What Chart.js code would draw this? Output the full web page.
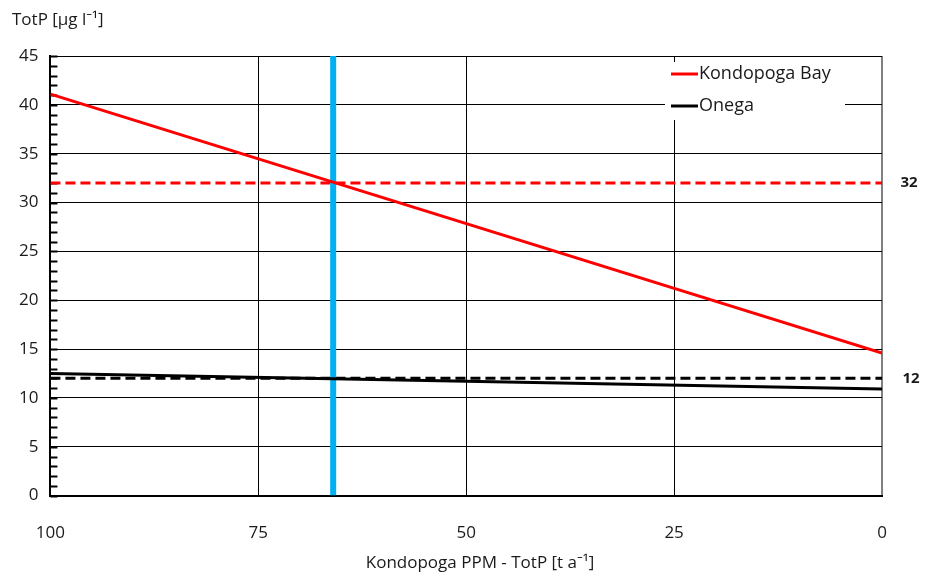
<!DOCTYPE html>
<html>
<head>
<meta charset="utf-8">
<script src="https://cdn.jsdelivr.net/npm/chart.js@4.4.1/dist/chart.umd.min.js"></script>
<style>
  html, body { margin: 0; padding: 0; background: #fff; }
  #wrap { width: 928px; height: 577px; }
</style>
</head>
<body>
<div id="wrap"><canvas id="totpChart"></canvas></div>
<script>
  // load scenario (t a-1), x axis runs from 100 down to 0
  const loadPoints = [100, 0];
  const kondopogaBay = [41.1, 14.6];
  const onega = [12.5, 10.9];
  const kondopogaTarget = [32, 32];
  const onegaTarget = [12, 12];
  const currentLoad = [66, 66];
  const currentLoadRange = [0, 45];
  const xTickValues = [100, 75, 50, 25, 0];
  const yTickValues = [0, 5, 10, 15, 20, 25, 30, 35, 40, 45];
  const targetLabels = ['32', '12'];

  const FONT = '"Open Sans", "Noto Sans", sans-serif';
  const TEXT = '#1a1a1a';

  function pts(xs, ys) {
    return xs.map(function (x, i) { return { x: x, y: ys[i] }; });
  }

  const extrasPlugin = {
    id: 'extras',
    beforeDatasetsDraw: function (chart) {
      const ctx = chart.ctx;
      const y = chart.scales.y;
      const area = chart.chartArea;
      // inward minor ticks on the y axis
      ctx.save();
      ctx.strokeStyle = '#000';
      ctx.lineWidth = 2;
      for (let v = y.min; v <= y.max; v++) {
        const py = Math.round(y.getPixelForValue(v)) + 0.5;
        ctx.beginPath();
        ctx.moveTo(area.left, py);
        ctx.lineTo(area.left + 7, py);
        ctx.stroke();
      }
      ctx.restore();
    },
    afterDraw: function (chart) {
      const ctx = chart.ctx;
      const y = chart.scales.y;
      const area = chart.chartArea;
      ctx.save();
      // axis titles
      ctx.fillStyle = TEXT;
      ctx.font = '17px ' + FONT;
      ctx.textBaseline = 'middle';
      ctx.textAlign = 'left';
      ctx.fillText('TotP [µg l⁻¹]', 12, 20);
      ctx.textAlign = 'center';
      ctx.fillText('Kondopoga PPM - TotP [t a⁻¹]', 480, 563);

      // target labels right of the plot
      ctx.font = 'bold 15px ' + FONT;
      ctx.fillText(targetLabels[0], area.right + 27, y.getPixelForValue(kondopogaTarget[1]));
      ctx.fillText(targetLabels[1], area.right + 29, y.getPixelForValue(onegaTarget[1]));

      // legend box inside the plot, top right
      const boxW = 180, boxH = 58;
      const bx = area.right - 37 - boxW, by = area.top + 6;
      ctx.fillStyle = '#fff';
      ctx.fillRect(bx, by, boxW, boxH);
      const items = [chart.data.datasets[0], chart.data.datasets[1]];
      ctx.font = '18px ' + FONT;
      ctx.textAlign = 'left';
      items.forEach(function (ds, i) {
        const ly = by + 12 + i * 32;
        ctx.strokeStyle = ds.borderColor;
        ctx.lineWidth = 3;
        ctx.beginPath();
        ctx.moveTo(bx + 6, ly);
        ctx.lineTo(bx + 33, ly);
        ctx.stroke();
        ctx.fillStyle = TEXT;
        ctx.fillText(ds.label, bx + 34, ly);
      });
      ctx.restore();
    }
  };

  new Chart(document.getElementById('totpChart'), {
    type: 'line',
    data: {
      datasets: [
        { label: 'Kondopoga Bay', data: pts(loadPoints, kondopogaBay), borderColor: '#ff0000', borderWidth: 3 },
        { label: 'Onega', data: pts(loadPoints, onega), borderColor: '#000000', borderWidth: 3 },
        { label: 'current', data: pts(currentLoad, currentLoadRange), borderColor: '#00b0f0', borderWidth: 6, borderCapStyle: 'butt' },
        { label: 'Kondopoga target', data: pts(loadPoints, kondopogaTarget), borderColor: '#ff0000', borderWidth: 3, borderDash: [10, 5] },
        { label: 'Onega target', data: pts(loadPoints, onegaTarget), borderColor: '#000000', borderWidth: 3, borderDash: [10, 5] }
      ]
    },
    options: {
      responsive: true,
      maintainAspectRatio: false,
      animation: false,
      elements: { point: { radius: 0 }, line: { tension: 0 } },
      layout: { padding: { top: 56, left: 7, right: 46, bottom: 7 } },
      plugins: { legend: { display: false }, tooltip: { enabled: false }, title: { display: false } },
      scales: {
        x: {
          type: 'linear',
          reverse: true,
          min: 0,
          max: 100,
          afterBuildTicks: function (scale) {
            scale.ticks = xTickValues.map(function (v) { return { value: v }; });
          },
          ticks: { color: TEXT, font: { family: FONT, size: 17 }, padding: 27 },
          grid: {
            drawTicks: false,
            color: function (c) { return c.tick && c.tick.value === 0 ? '#808080' : '#000'; },
            lineWidth: function (c) { return c.tick && c.tick.value === 0 ? 2 : 1; }
          },
          border: { color: '#000', width: 2 }
        },
        y: {
          min: 0,
          max: 45,
          afterBuildTicks: function (scale) {
            scale.ticks = yTickValues.map(function (v) { return { value: v }; });
          },
          ticks: { color: TEXT, font: { family: FONT, size: 17 }, padding: 12 },
          grid: { drawTicks: false, color: '#000', lineWidth: 1 },
          border: { color: '#000', width: 2 }
        }
      }
    },
    plugins: [extrasPlugin]
  });
</script>
</body>
</html>
